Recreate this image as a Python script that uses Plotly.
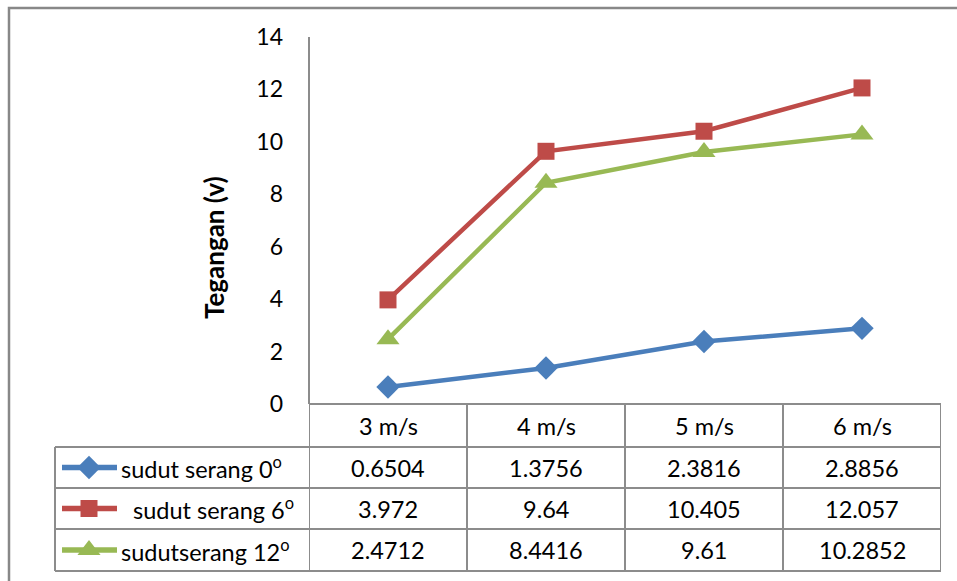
import plotly.graph_objects as go

# Wind speed categories and measured voltage per angle of attack
categories = ["3 m/s", "4 m/s", "5 m/s", "6 m/s"]
series_names = ["sudut serang 0<sup>o</sup>", "\u00a0\u00a0sudut serang 6<sup>o</sup>", "sudutserang 12<sup>o</sup>"]
sudut_0 = [0.6504, 1.3756, 2.3816, 2.8856]
sudut_6 = [3.972, 9.64, 10.405, 12.057]
sudut_12 = [2.4712, 8.4416, 9.61, 10.2852]
table_text = [["0.6504", "1.3756", "2.3816", "2.8856"],
              ["3.972", "9.64", "10.405", "12.057"],
              ["2.4712", "8.4416", "9.61", "10.2852"]]
y_ticks = [0, 2, 4, 6, 8, 10, 12, 14]

colors = ["#4A7EBB", "#BE4B48", "#98B954"]
symbols = ["diamond", "square", "triangle-up"]
sizes = [18, 17, 20]
values = [sudut_0, sudut_6, sudut_12]

W, H = 957, 581
FONT = "Lato"
GRID = "#8C8C8C"

# Layout in pixels
PX_L, PX_R, PX_T, PX_B = 309, 941, 37, 404
TBL_L = 55
ROWS = [404, 447, 488, 529, 571]


def px(x):
    return x / W


def py(y):
    return 1 - y / H


fig = go.Figure()

x_idx = list(range(len(categories)))
for name, vals, c, s, sz in zip(series_names, values, colors, symbols, sizes):
    fig.add_trace(go.Scatter(
        x=x_idx, y=vals, mode="lines+markers", name=name,
        line=dict(color=c, width=4.5),
        marker=dict(symbol=s, size=sz, color=c),
        xaxis="x", yaxis="y", showlegend=False, hoverinfo="skip",
    ))

# Legend keys inside the data table
for i, (c, s, sz) in enumerate(zip(colors, symbols, sizes)):
    yc = (ROWS[i + 1] + ROWS[i + 2]) / 2
    fig.add_trace(go.Scatter(
        x=[62, 89, 117], y=[yc, yc, yc], mode="lines",
        line=dict(color=c, width=5.5), xaxis="x2", yaxis="y2",
        showlegend=False, hoverinfo="skip",
    ))
    fig.add_trace(go.Scatter(
        x=[89], y=[yc], mode="markers",
        marker=dict(symbol=s, size=sz, color=c), xaxis="x2", yaxis="y2",
        showlegend=False, hoverinfo="skip",
    ))

shapes = []
# Outer chart border
shapes.append(dict(type="rect", xref="paper", yref="paper",
                   x0=px(9), x1=px(W + 5), y0=py(H + 5), y1=py(8),
                   line=dict(color="#888888", width=2.5), fillcolor="rgba(0,0,0,0)"))
# Vertical axis line
shapes.append(dict(type="line", xref="paper", yref="paper",
                   x0=px(PX_L), x1=px(PX_L), y0=py(PX_B), y1=py(PX_T),
                   line=dict(color=GRID, width=2)))
# Table horizontal lines
shapes.append(dict(type="line", xref="paper", yref="paper",
                   x0=px(PX_L), x1=px(PX_R), y0=py(ROWS[0]), y1=py(ROWS[0]),
                   line=dict(color=GRID, width=2)))
for r in ROWS[1:]:
    shapes.append(dict(type="line", xref="paper", yref="paper",
                       x0=px(TBL_L), x1=px(PX_R), y0=py(r), y1=py(r),
                       line=dict(color=GRID, width=2)))
# Table vertical lines
shapes.append(dict(type="line", xref="paper", yref="paper",
                   x0=px(TBL_L), x1=px(TBL_L), y0=py(ROWS[1]), y1=py(ROWS[-1]),
                   line=dict(color=GRID, width=2)))
for k in range(len(categories) + 1):
    shapes.append(dict(type="line", xref="x", yref="paper",
                       x0=k - 0.5, x1=k - 0.5, y0=py(ROWS[0]), y1=py(ROWS[-1]),
                       line=dict(color=GRID, width=2)))

annotations = []
TXT = dict(family=FONT, size=23.5, color="#000000")
for j, cat in enumerate(categories):
    annotations.append(dict(x=j, y=py((ROWS[0] + ROWS[1]) / 2), xref="x", yref="paper",
                            text=cat, showarrow=False, font=TXT,
                            xanchor="center", yanchor="middle"))
for i, row in enumerate(table_text):
    yc = py((ROWS[i + 1] + ROWS[i + 2]) / 2)
    for j, t in enumerate(row):
        annotations.append(dict(x=j, y=yc, xref="x", yref="paper", text=t,
                                showarrow=False, font=TXT,
                                xanchor="center", yanchor="middle"))
    annotations.append(dict(x=px(119), y=yc, xref="paper", yref="paper",
                            text=series_names[i], showarrow=False, font=TXT,
                            xanchor="left", yanchor="middle"))
# Y-axis title
annotations.append(dict(x=px(214), y=py(248), xref="paper", yref="paper",
                        text="<b>Tegangan (v)</b>", textangle=-90, showarrow=False,
                        font=dict(family=FONT, size=26, color="#000000"),
                        xanchor="center", yanchor="middle"))

fig.update_layout(
    width=W, height=H,
    margin=dict(l=0, r=0, t=0, b=0, autoexpand=False),
    paper_bgcolor="white", plot_bgcolor="white",
    xaxis=dict(domain=[px(PX_L), px(PX_R)], range=[-0.5, 3.5],
               showticklabels=False, showgrid=False, zeroline=False,
               showline=False, fixedrange=True),
    yaxis=dict(domain=[py(PX_B), py(PX_T)], range=[0, 14],
               tickvals=y_ticks, ticktext=[str(v) for v in y_ticks],
               tickfont=dict(family=FONT, size=23, color="#000000"),
               showgrid=False, zeroline=False, showline=False,
               ticks="", ticklabelstandoff=25, fixedrange=True),
    xaxis2=dict(domain=[px(TBL_L), px(PX_L)], range=[TBL_L, PX_L],
                visible=False, fixedrange=True, anchor="y2"),
    yaxis2=dict(domain=[py(ROWS[-1]), py(ROWS[1])], range=[ROWS[-1], ROWS[1]],
                visible=False, fixedrange=True, anchor="x2"),
    shapes=shapes, annotations=annotations,
    showlegend=False,
)

fig.write_html("out.html")
